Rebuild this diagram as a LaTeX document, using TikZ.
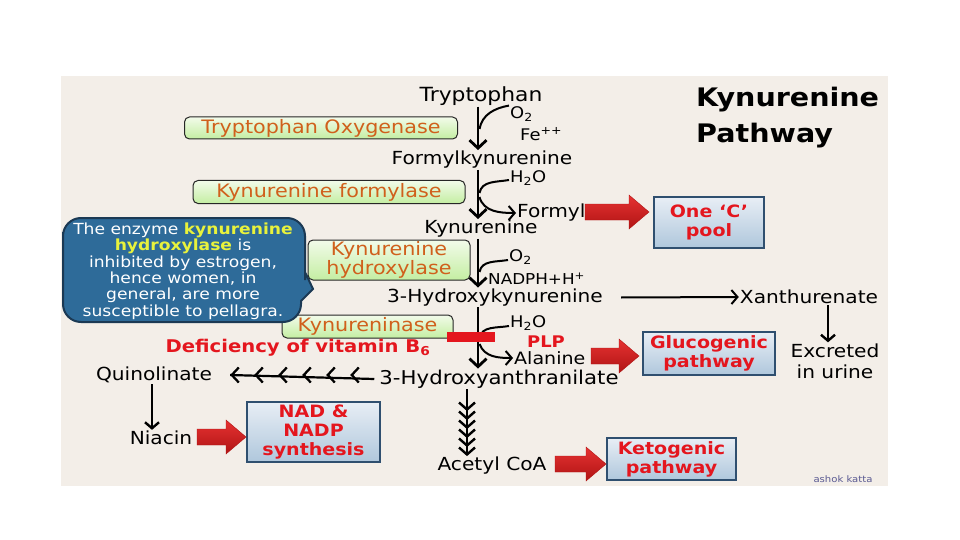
\documentclass[tikz,border=0pt]{standalone}
\usepackage{fontspec}
\setmainfont{DejaVu Sans}[FakeStretch=1.12]
\usetikzlibrary{arrows.meta,calc}
\definecolor{bgc}{HTML}{F3EEE8}
\definecolor{orangeT}{HTML}{D0601C}
\definecolor{redT}{HTML}{E4161E}
\definecolor{greenT}{HTML}{F2FBEA}
\definecolor{greenB}{HTML}{C4EEA2}
\definecolor{blueT}{HTML}{E8EEF5}
\definecolor{blueB}{HTML}{AFC7DC}
\definecolor{blueD}{HTML}{2F4F6F}
\definecolor{bubF}{HTML}{2E6B99}
\definecolor{bubD}{HTML}{1B3954}
\definecolor{yelT}{HTML}{E8F23C}
\definecolor{arrT}{HTML}{E63232}
\definecolor{arrB}{HTML}{B01414}
\definecolor{sigc}{HTML}{5A5A92}
\newcommand\BlockArr[3]{%
  \path[top color=arrT, bottom color=arrB, draw=arrB, line width=0.4pt]
    (#1,#3-8) -- (#2-20,#3-8) -- (#2-20,#3-17) -- (#2,#3) -- (#2-20,#3+17)
    -- (#2-20,#3+8) -- (#1,#3+8) -- cycle;}
\tikzset{
  lbl/.style={font=\fontsize{18}{21}\selectfont, text=black, inner sep=1pt},
  sm/.style={font=\fontsize{16}{18}\selectfont, text=black, inner sep=1pt},
  enz/.style={draw=black!85, line width=1pt, rounded corners=5pt, top color=greenT,
    bottom color=greenB, text=orangeT, font=\fontsize{18.5}{19.5}\selectfont, align=center, inner sep=1pt},
  pbox/.style={draw=blueD, line width=1.3pt, top color=blueT, bottom color=blueB, text=redT,
    font=\bfseries\fontsize{17}{18.8}\selectfont, align=center, inner sep=1pt},
  redbold/.style={font=\bfseries\fontsize{17.5}{19}\selectfont, text=redT, inner sep=1pt},
  hd/.tip={Straight Barb[length=8pt,width=17pt]},
  mainarr/.style={line width=2.8pt, -{hd}},
  curv/.style={line width=2pt},
  curvarr/.style={line width=2pt, -{Straight Barb[length=6pt,width=14pt]}},
  thinarr/.style={line width=2pt, -{Straight Barb[length=6pt,width=14pt]}},
}
\begin{document}
\begin{tikzpicture}[x=1pt,y=-1pt]
\useasboundingbox (0,0) rectangle (960,540);
\fill[white] (0,0) rectangle (960,540);
\fill[bgc] (61,76) rectangle (888,486);

% title
\node[font=\bfseries\fontsize{25.5}{28}\selectfont, anchor=west, inner sep=0pt] (t1) at (696,100) {Kynurenine};
\node[font=\bfseries\fontsize{25.5}{28}\selectfont, anchor=west, inner sep=0pt] (t2) at (696,136) {Pathway};

\coordinate (ax) at (478,0);

% main column
\node[lbl, font=\fontsize{19.5}{21}\selectfont] (tryp) at (481,96) {Tryptophan};
\node[sm, anchor=west] (o2a) at (509,114) {O\textsubscript{2}};
\node[sm, anchor=west] (fe) at (519,134) {Fe\textsuperscript{++}};
\node[enz, minimum width=273pt, minimum height=22pt] (e1) at (321,128) {Tryptophan Oxygenase};
\node[lbl] (fk) at (482,160) {Formylkynurenine};
\node[sm, anchor=west] (h2oa) at (509,178) {H\textsubscript{2}O};
\node[enz, minimum width=272pt, minimum height=23pt] (e2) at (329,192) {Kynurenine formylase};
\node[lbl, anchor=west] (formyl) at (516,213) {Formyl};
\node[pbox, minimum width=110pt, minimum height=51pt] (onec) at (709,222.5) {One `C'\\pool};
\node[lbl] (kyn) at (481,229) {Kynurenine};
\node[sm, anchor=west] (o2b) at (508,257) {O\textsubscript{2}};
\node[sm, anchor=west, font=\fontsize{15}{16}\selectfont] (nadph) at (487,279) {NADPH+H\textsuperscript{+}};
\node[enz, minimum width=162pt, minimum height=40pt] (e3) at (389,260) {Kynurenine\\hydroxylase};
\node[lbl] (hk) at (495,297.5) {3-Hydroxykynurenine};
\node[lbl] (xan) at (809,297) {Xanthurenate};
\node[lbl, align=center] (excr) at (835,361) {Excreted\\in urine};
\node[sm, anchor=west] (h2ob) at (509,323) {H\textsubscript{2}O};
\node[enz, minimum width=171pt, minimum height=23pt] (e4) at (367.5,326.5) {Kynureninase};
\node[redbold, font=\bfseries\fontsize{16}{17}\selectfont] (plp) at (546,341.5) {PLP};
\node[lbl, anchor=west, font=\fontsize{17}{18}\selectfont] (ala) at (513,358) {Alanine};
\node[redbold] (def) at (298,348) {Deficiency of vitamin B\textsubscript{6}};
\node[pbox, minimum width=132pt, minimum height=43pt] (gluc) at (709,353.5) {Glucogenic\\pathway};
\node[lbl, font=\fontsize{19}{21}\selectfont] (ha) at (499,379) {3-Hydroxyanthranilate};
\node[lbl] (quin) at (154,375) {Quinolinate};
\node[lbl] (niacin) at (161,438) {Niacin};
\node[pbox, minimum width=133pt, minimum height=60pt] (nad) at (313.5,432) {NAD \&\\NADP\\synthesis};
\node[lbl] (acetyl) at (492,466) {Acetyl CoA};
\node[pbox, minimum width=129pt, minimum height=42pt] (keto) at (671.5,459) {Ketogenic\\pathway};
\node[font=\fontsize{9}{10}\selectfont, text=sigc, inner sep=0pt] (sig) at (843,479) {ashok katta};

% speech bubble
\path[fill=bubF, draw=bubD, line width=2pt]
  (63,250) [rounded corners=18pt] -- (63,218) -- (305,218) -- (305,262)
  [rounded corners=0pt] -- (305,272) -- (313,289) -- (301,301)
  [rounded corners=18pt] -- (301,322) -- (63,322) -- cycle;
\node[font=\fontsize{15.3}{16.4}\selectfont, text=white, align=center, inner sep=0pt] (bub) at (183,271)
  {The enzyme {\bfseries\color{yelT}kynurenine}\\{\bfseries\color{yelT}hydroxylase} is\\inhibited by estrogen,\\hence women, in\\general, are more\\susceptible to pellagra.};

% main arrows
\draw[mainarr] (tryp.south -| ax) -- (fk.north -| ax);
\draw[mainarr] (fk.south -| ax) -- (kyn.north -| ax);
\draw[mainarr] (kyn.south -| ax) -- (hk.north -| ax);
\draw[mainarr] (hk.south -| ax) -- (ha.north -| ax);

% side curves
\draw[curv] (o2a.north west) to[out=190,in=80] (479.5,129);
\draw[curv] ([yshift=-2pt]h2oa.west) to[out=190,in=80] (479.5,193);
\draw[curvarr] (479.5,197) to[out=-75,in=180] (formyl.west);
\draw[curv] ([yshift=-3pt]o2b.west) to[out=190,in=80] (479.5,272);
\draw[curv] ([yshift=-3pt]h2ob.west) to[out=190,in=80] (479.5,338);
\draw[curvarr] (479.5,344) to[out=-70,in=180] (ala.west);

% red block (inhibition)
\fill[redT] (447,332) rectangle (495,342);

% side arrows
\draw[thinarr] ([xshift=17pt]hk.east) -- (xan.west);
\draw[thinarr, line width=2.4pt] ([xshift=19pt]xan.south) -- ([xshift=-7pt]excr.north);
\draw[thinarr, line width=2.4pt] ([xshift=-2pt]quin.south) -- ([xshift=-9pt]niacin.north);

% multi-headed arrows
\coordinate (hend) at ([xshift=17pt]quin.east);
\draw[line width=2.2pt] ([xshift=-4pt]ha.west) -- (hend);
\foreach \i in {0,...,5}
  \draw[line width=2.3pt, -{Straight Barb[length=7pt,width=15pt]}] ([xshift={24*\i+1}]hend) -- ([xshift={24*\i}]hend);
\coordinate (vstart) at (ha.south -| 467,0);
\coordinate (vend) at (acetyl.north -| 467,0);
\draw[line width=2.4pt] (vstart) -- ([yshift=2pt]vend);
\foreach \i in {0,...,5}
  \draw[line width=2.4pt, -{Straight Barb[length=7pt,width=16pt]}] ([yshift={9*\i+1}]vend) -- ([yshift={9*\i}]vend);

% red block arrows
\BlockArr{585}{649}{212}
\BlockArr{591}{639}{356}
\BlockArr{197}{246}{437}
\BlockArr{555}{606}{464}
\end{tikzpicture}
\end{document}
